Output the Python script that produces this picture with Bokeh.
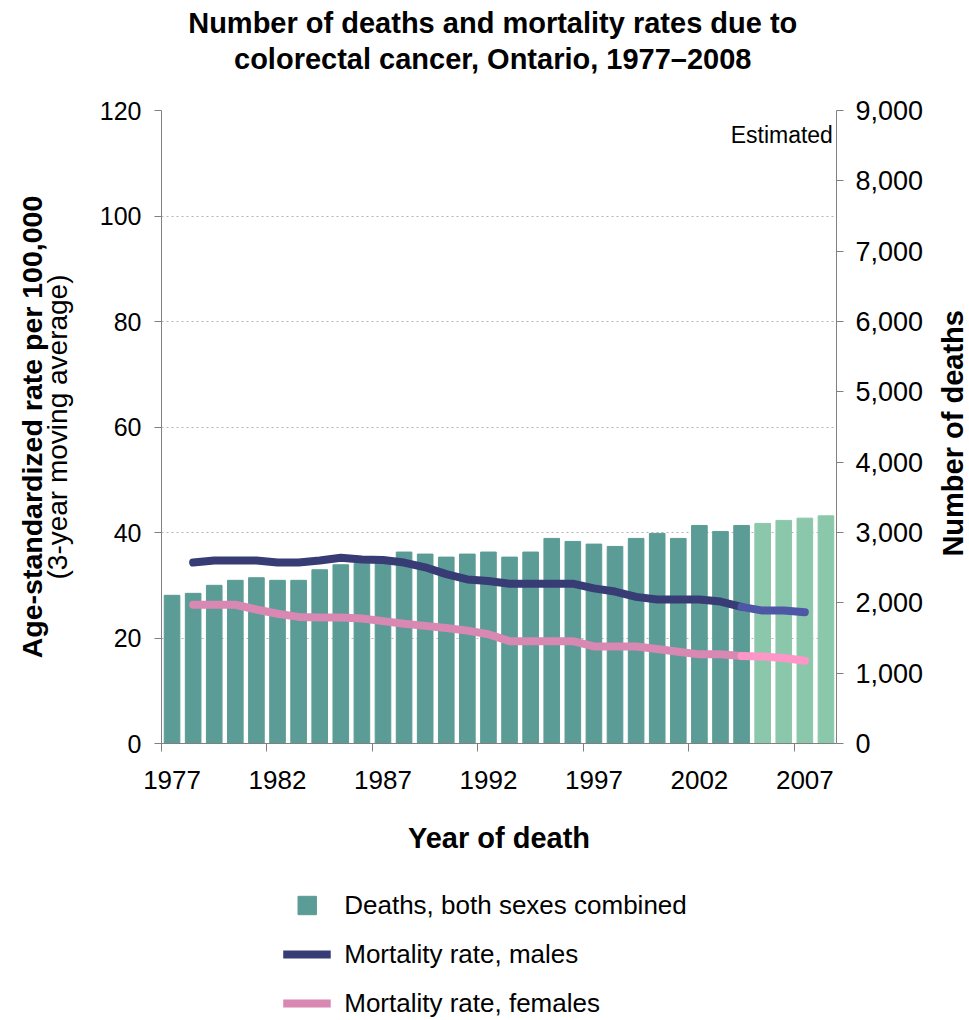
import numpy as np
from math import pi
from bokeh.plotting import figure
from bokeh.layouts import column, row
from bokeh.models import (Range1d, LinearAxis, FixedTicker, NumeralTickFormatter,
                          Label, Legend, LegendItem, ColumnDataSource)
from bokeh.embed import file_html
from bokeh.resources import INLINE

# ---------------- data ----------------
years = list(range(1977, 2009))
deaths = [2107, 2135, 2249, 2320, 2357, 2320, 2320, 2470, 2541, 2560,
          2600, 2722, 2693, 2650, 2693, 2722, 2650, 2722, 2916, 2873,
          2835, 2802, 2916, 2987, 2916, 3100, 3015, 3100, 3129, 3172,
          3204, 3237]
deaths_estimated_from = 2005

rate_years = list(range(1978, 2008))
male_rate = [34.3, 34.7, 34.7, 34.7, 34.3, 34.3, 34.7, 35.2, 34.9, 34.8,
             34.3, 33.4, 32.1, 31.1, 30.8, 30.3, 30.3, 30.3, 30.3, 29.4,
             28.8, 27.8, 27.3, 27.3, 27.3, 26.9, 25.9, 25.2, 25.2, 24.9]
female_rate = [26.3, 26.3, 26.3, 25.4, 24.6, 24.0, 23.9, 23.9, 23.7, 23.2,
               22.7, 22.3, 21.9, 21.4, 20.7, 19.4, 19.4, 19.4, 19.4, 18.4,
               18.4, 18.4, 17.9, 17.4, 16.9, 16.9, 16.6, 16.5, 16.2, 15.7]
rate_estimated_from = 2004

x_tick_years = [1977, 1982, 1987, 1992, 1997, 2002, 2007]
rate_ticks = [0, 20, 40, 60, 80, 100, 120]
death_ticks = [0, 1000, 2000, 3000, 4000, 5000, 6000, 7000, 8000, 9000]

title_lines = ["Number of deaths and mortality rates due to",
               "colorectal cancer, Ontario, 1977\u20132008"]
left_label = "Age-standardized rate per 100,000"
left_sublabel = "(3-year moving average)"
right_label = "Number of deaths"
x_label = "Year of death"
legend_labels = ["Deaths, both sexes combined", "Mortality rate, males",
                 "Mortality rate, females"]

# ---------------- style ----------------
FONT = "Liberation Sans"
BAR = "#5B9C96"
BAR_EST = "#8BC7AB"
MALE = "#373C74"
MALE_EST = "#4E56A6"
FEMALE = "#D888B2"
FEMALE_EST = "#FF96C8"
AXIS = "#808080"

W = 969
W_MAIN = 936
H_TITLE, H_MAIN, H_LEG = 80, 800, 140
FL, FR = 161, 836
FT, FB = 30, 663          # frame top / bottom inside the main figure
X0, X1 = years[0] - 0.5, years[-1] + 0.5

# ---------------- title figure ----------------
tf = figure(width=W, height=H_TITLE, output_backend="svg", toolbar_location=None,
            x_range=Range1d(0, 1), y_range=Range1d(H_TITLE, 0),
            x_axis_type=None, y_axis_type=None, min_border=0)
tf.outline_line_color = None
for txt, yy in zip(title_lines, [22, 58]):
    tf.add_layout(Label(x=0.508, y=yy, text=txt, text_align="center",
                        text_baseline="middle", text_font=FONT,
                        text_font_size="29px", text_font_style="bold",
                        text_color="black"))

# ---------------- main figure ----------------
p = figure(width=W_MAIN, height=H_MAIN, output_backend="svg",
           toolbar_location=None,
           x_range=Range1d(X0, X1), y_range=Range1d(0, 120),
           min_border_left=FL, min_border_right=W_MAIN - FR,
           min_border_top=FT, min_border_bottom=H_MAIN - FB)
p.extra_y_ranges = {"deaths": Range1d(0, 9000)}
p.outline_line_color = None

bar_src = ColumnDataSource(dict(
    x=years, top=deaths,
    color=[BAR if y < deaths_estimated_from else BAR_EST for y in years]))
p.vbar(x="x", top="top", width=0.74, bottom=0, source=bar_src,
       fill_color="color", line_color="color", y_range_name="deaths")

ry = np.array(rate_years)
m = np.array(male_rate)
f = np.array(female_rate)
obs = ry <= rate_estimated_from
est = ry >= rate_estimated_from
LW = 8
p.line(ry[obs], m[obs], line_color=MALE, line_width=LW,
       line_cap="round", line_join="round")
p.line(ry[est], m[est], line_color=MALE_EST, line_width=LW,
       line_cap="round", line_join="round")
p.line(ry[obs], f[obs], line_color=FEMALE, line_width=LW,
       line_cap="round", line_join="round")
p.line(ry[est], f[est], line_color=FEMALE_EST, line_width=LW,
       line_cap="round", line_join="round")

ya = p.yaxis[0]
ya.ticker = FixedTicker(ticks=rate_ticks)
ya.major_label_text_font = FONT
ya.major_label_text_font_size = "25px"
ya.major_label_text_color = "black"
ya.axis_line_color = AXIS
ya.major_tick_line_color = AXIS
ya.major_tick_out = 7
ya.major_tick_in = 0
ya.minor_tick_line_color = None
ya.major_label_standoff = 13
ya.axis_label = left_sublabel
ya.axis_label_text_font = FONT
ya.axis_label_text_font_size = "28px"
ya.axis_label_text_font_style = "normal"
ya.axis_label_text_color = "black"
ya.axis_label_standoff = 24

ya2 = LinearAxis(ticker=FixedTicker(ticks=[]), axis_line_color=None,
                 major_tick_line_color=None, minor_tick_line_color=None,
                 major_label_text_font_size="0px", major_tick_out=0,
                 major_tick_in=0, minor_tick_out=0, minor_tick_in=0,
                 major_label_standoff=0)
ya2.axis_label = left_label
ya2.axis_label_text_font = FONT
ya2.axis_label_text_font_size = "28.5px"
ya2.axis_label_text_font_style = "bold"
ya2.axis_label_text_color = "black"
ya2.axis_label_standoff = -9
p.add_layout(ya2, "left")

ra = LinearAxis(y_range_name="deaths", ticker=FixedTicker(ticks=death_ticks),
                formatter=NumeralTickFormatter(format="0,0"))
ra.major_label_text_font = FONT
ra.major_label_text_font_size = "27px"
ra.major_label_text_color = "black"
ra.axis_line_color = AXIS
ra.major_tick_line_color = AXIS
ra.major_tick_out = 7
ra.major_tick_in = 0
ra.minor_tick_line_color = None
ra.major_label_standoff = 12
p.add_layout(ra, "right")

xa = p.xaxis[0]
xa.ticker = FixedTicker(ticks=x_tick_years,
                        minor_ticks=[y - 0.5 for y in x_tick_years])
xa.major_tick_line_color = None
xa.minor_tick_line_color = AXIS
xa.minor_tick_out = 8
xa.minor_tick_in = 0
xa.axis_line_color = AXIS
xa.major_label_text_font = FONT
xa.major_label_text_font_size = "26px"
xa.major_label_text_color = "black"
xa.major_label_standoff = 19
xa.axis_label = x_label
xa.axis_label_text_font = FONT
xa.axis_label_text_font_size = "29px"
xa.axis_label_text_font_style = "bold"
xa.axis_label_text_color = "black"
xa.axis_label_standoff = 30

p.xgrid.visible = False
p.ygrid.ticker = FixedTicker(ticks=rate_ticks[1:])
p.ygrid.grid_line_color = "#b4b4b4"
p.ygrid.grid_line_dash = "2 3"
p.ygrid.grid_line_width = 1

p.add_layout(Label(x=X1 - 0.17, y=115.4, text="Estimated",
                   text_align="right", text_baseline="middle",
                   text_font=FONT, text_font_size="23px", text_color="black"))

# ---------------- right axis title figure ----------------
rf = figure(width=W - W_MAIN, height=H_MAIN, output_backend="svg",
            toolbar_location=None, x_range=Range1d(0, 1), y_range=Range1d(0, 1),
            x_axis_type=None, y_axis_type=None,
            min_border_left=0, min_border_right=0,
            min_border_top=FT, min_border_bottom=H_MAIN - FB)
rf.outline_line_color = None
rf.add_layout(Label(x=0.5, y=0.49, text=right_label, angle=pi / 2,
                    text_align="center", text_baseline="middle",
                    text_font=FONT, text_font_size="29px",
                    text_font_style="bold", text_color="black"))

# ---------------- legend figure ----------------
lg = figure(width=W, height=H_LEG, output_backend="svg", toolbar_location=None,
            x_range=Range1d(0, 1), y_range=Range1d(0, 1),
            x_axis_type=None, y_axis_type=None, min_border=0)
lg.outline_line_color = None
nan = np.array([np.nan])
r_bar = lg.scatter(x=nan, y=nan, marker="square", size=20,
                   fill_color=BAR, line_color=BAR)
r_m = lg.line(x=nan, y=nan, line_color=MALE, line_width=LW)
r_f = lg.line(x=nan, y=nan, line_color=FEMALE, line_width=LW)
legend = Legend(items=[
    LegendItem(label=legend_labels[0], renderers=[r_bar]),
    LegendItem(label=legend_labels[1], renderers=[r_m]),
    LegendItem(label=legend_labels[2], renderers=[r_f]),
], location="top_center", orientation="vertical",
    glyph_width=48, glyph_height=46, spacing=3, padding=0, margin=2,
    label_standoff=14, label_text_font=FONT, label_text_font_size="26px",
    label_text_color="black", border_line_color=None,
    background_fill_alpha=0)
lg.add_layout(legend)

layout = column(tf, row(p, rf, spacing=0), lg, spacing=0)
open("out.html", "w").write(file_html(layout, INLINE))
